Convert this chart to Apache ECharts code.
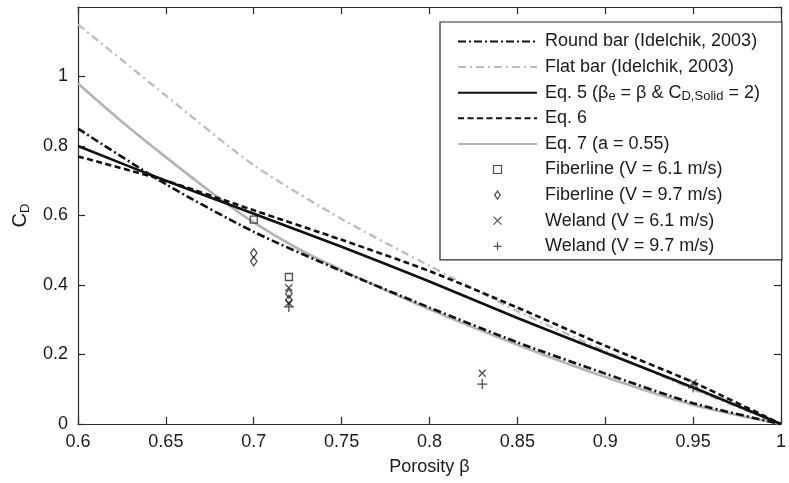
<!DOCTYPE html>
<html><head><meta charset="utf-8">
<script src="https://cdn.jsdelivr.net/npm/echarts@6/dist/echarts.min.js"></script>
<style>html,body{margin:0;padding:0;background:#fff}#c{width:789px;height:483px}</style>
</head><body><div id="c"></div>
<script>
// ---- data ----
const beta = [0.6, 0.65, 0.7, 0.75, 0.8, 0.85, 0.9, 0.95, 1.0];
const roundBar = [0.85, 0.69, 0.553, 0.44, 0.335, 0.235, 0.145, 0.06, 0];
const flatBar  = [1.15, 0.945, 0.745, 0.59, 0.455, 0.325, 0.21, 0.10, 0];
const eq5      = [0.80, 0.70, 0.605, 0.51, 0.41, 0.305, 0.205, 0.105, 0];
const eq6      = [0.77, 0.70, 0.615, 0.53, 0.44, 0.335, 0.225, 0.12, 0];
const betaEq7  = [0.6, 0.625, 0.65, 0.675, 0.7, 0.725, 0.75, 0.8, 0.85, 0.9, 0.95, 1.0];
const eq7      = [0.98, 0.87, 0.768, 0.67, 0.58, 0.505, 0.443, 0.33, 0.228, 0.135, 0.055, 0];
const fib61Beta = [0.7, 0.72];
const fib61Cd   = [0.588, 0.423];
const fib97Beta = [0.7, 0.7, 0.72, 0.72];
const fib97Cd   = [0.492, 0.468, 0.375, 0.357];
const wel61Beta = [0.72, 0.72, 0.83, 0.95];
const wel61Cd   = [0.392, 0.348, 0.146, 0.118];
const wel97Beta = [0.72, 0.83, 0.95];
const wel97Cd   = [0.337, 0.115, 0.105];

const NAMES = ['Round bar (Idelchik, 2003)', 'Flat bar (Idelchik, 2003)', 'Eq5', 'Eq. 6', 'Eq. 7 (a = 0.55)',
  'Fiberline (V = 6.1 m/s)', 'Fiberline (V = 9.7 m/s)', 'Weland (V = 6.1 m/s)', 'Weland (V = 9.7 m/s)'];

const pairs = (xs, ys) => xs.map((x, i) => [x, ys[i]]);
const FONT = '"Liberation Sans", Arial, sans-serif';
const TXT = '#1a1a1a';
const AX = '#2a2a2a';
const MK = '#222';
const FS = 18;

function lineSeries(name, xs, ys, color, type, width) {
  return { name, type: 'line', data: pairs(xs, ys), symbol: 'none', smooth: 0.25,
    lineStyle: { color, width, type }, itemStyle: { color }, silent: true };
}
function scatterSeries(name, xs, ys, symbol, size) {
  return { name, type: 'scatter', data: pairs(xs, ys), symbol, symbolSize: size, symbolKeepAspect: true,
    silent: true, z: 5,
    itemStyle: { color: 'rgba(0,0,0,0)', borderColor: MK, borderWidth: 1.3 } };
}

const axisCommon = {
  type: 'value', splitLine: { show: false },
  axisLine: { show: true, onZero: false, lineStyle: { color: AX, width: 1.2 } },
  axisTick: { show: true, inside: true, length: 7, lineStyle: { color: AX, width: 1.2 } }
};

const legendData = NAMES.map((n, i) => i < 5
  ? { name: n, itemStyle: { color: 'rgba(0,0,0,0)', borderWidth: 0, borderColor: 'rgba(0,0,0,0)' } }
  : { name: n, itemStyle: { color: 'rgba(0,0,0,0)', borderColor: MK, borderWidth: 1.2 } });

const option = {
  animation: false,
  backgroundColor: '#fff',
  grid: { left: 78, right: 2, top: 7, bottom: 59 },
  xAxis: [
    Object.assign({}, axisCommon, { min: 0.6, max: 1, interval: 0.05, position: 'bottom',
      axisLabel: { fontFamily: FONT, fontSize: FS, color: TXT, margin: 9 },
      name: 'Porosity β', nameLocation: 'middle', nameGap: 34,
      nameTextStyle: { fontFamily: FONT, fontSize: FS, color: TXT } }),
    Object.assign({}, axisCommon, { min: 0.6, max: 1, interval: 0.05, position: 'top', axisLabel: { show: false } })
  ],
  yAxis: [
    Object.assign({}, axisCommon, { min: 0, max: 1.2, interval: 0.2, position: 'left',
      axisLabel: { fontFamily: FONT, fontSize: FS, color: TXT, margin: 10, showMaxLabel: false },
      name: '{c|C}{d|D}', nameLocation: 'middle', nameGap: 46, nameRotate: 90,
      nameTextStyle: { fontFamily: FONT, color: TXT,
        rich: { c: { fontFamily: FONT, fontSize: 20, color: TXT, lineHeight: 24, verticalAlign: 'middle' },
                d: { fontFamily: FONT, fontSize: 13, color: TXT, lineHeight: 13, verticalAlign: 'bottom' } } } }),
    Object.assign({}, axisCommon, { min: 0, max: 1.2, interval: 0.2, position: 'right', axisLabel: { show: false } })
  ],
  legend: {
    orient: 'vertical', left: 440, top: 22, padding: [9.5, 22, 3.5, 17],
    itemWidth: 79, itemHeight: 8, itemGap: 5.6,
    borderColor: AX, borderWidth: 1.2, backgroundColor: '#fff',
    selectedMode: false,
    textStyle: { fontFamily: FONT, fontSize: FS, color: TXT, lineHeight: 20, padding: [0, 0, 0, 3],
      rich: { s: { fontFamily: FONT, fontSize: 13, color: TXT, lineHeight: 12, verticalAlign: 'bottom' } } },
    data: legendData,
    formatter: n => n === 'Eq5' ? 'Eq. 5 (β{s|e} = β & C{s|D,Solid} = 2)' : n
  },
  series: [
    lineSeries(NAMES[4], betaEq7, eq7, '#b4b4b4', 'solid', 2.6),
    lineSeries(NAMES[1], beta, flatBar, '#bdbdbd', [8, 4, 2, 4], 2.4),
    lineSeries(NAMES[3], beta, eq6, '#111', [6, 3.5], 2.6),
    lineSeries(NAMES[2], beta, eq5, '#111', 'solid', 2.6),
    lineSeries(NAMES[0], beta, roundBar, '#111', [8, 3, 2, 3], 2.6),
    scatterSeries(NAMES[5], fib61Beta, fib61Cd, 'path://M0,0L10,0L10,10L0,10Z', 7),
    scatterSeries(NAMES[6], fib97Beta, fib97Cd, 'path://M5,0L10,7L5,14L0,7Z', 9),
    scatterSeries(NAMES[7], wel61Beta, wel61Cd, 'path://M0,0L10,10M10,0L0,10', 7),
    scatterSeries(NAMES[8], wel97Beta, wel97Cd, 'path://M0,5L10,5M5,0L5,10', 10)
  ]
};
const chart = echarts.init(document.getElementById('c'));
chart.setOption(option);
</script></body></html>
